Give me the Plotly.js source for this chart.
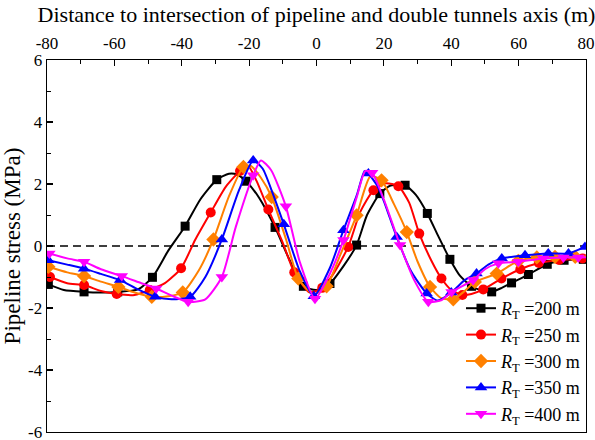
<!DOCTYPE html>
<html>
<head>
<meta charset="utf-8">
<script src="https://cdn.plot.ly/plotly-3.0.1.min.js"></script>
<style>html,body{margin:0;padding:0;background:#fff;}#chart{width:595px;height:440px;}</style>
</head>
<body>
<div id="chart"></div>
<script>
// ---- Data ----
// Marker points (x in m, stress in MPa)
const mx200 = [-79.6,-69,-59,-48.7,-39,-29.6,-20.9,-12.3,-3.9,4,11.9,18.8,26.3,32.9,39.6,46,52,57.9,62.9,68.5,73.5,79.2];
const my200 = [-1.24,-1.48,-1.48,-1.01,0.64,2.14,2.09,0.6,-1.3,-1.21,0.03,1.69,1.96,1.05,-0.43,-1.3,-1.48,-1.19,-0.92,-0.59,-0.46,-0.43];
// Additional line points between markers
const lx200 = [-75,-64,-53,-44,-34.5,-26,-23.5,-17,-8,0,8,15,22,29.5,36,42.5,49,55];
const ly200 = [-1.42,-1.5,-1.4,-0.15,1.5,2.33,2.3,1.55,-0.45,-1.42,-0.65,1.0,1.95,1.65,0.35,-0.95,-1.43,-1.35];

const mx250 = [-79.1,-69,-59.3,-49.5,-40.2,-31.4,-22.7,-14.3,-6.6,1.7,9.4,16.9,24.3,30.5,37.1,43.3,49.5,54.9,60.5,66,72,79];
const my250 = [-1.0,-1.26,-1.55,-1.42,-0.72,1.08,2.42,1.18,-0.85,-1.35,-0.03,1.8,1.93,0.4,-1.05,-1.58,-1.4,-1.05,-0.75,-0.55,-0.45,-0.4];
const lx250 = [-74,-64,-54,-45,-36,-27,-20.3,-17.8,-10,-2,5,13,20.5,27.5,34,40,46];
const ly250 = [-1.2,-1.45,-1.58,-1.2,0.2,1.9,2.58,2.1,0.1,-1.5,-0.9,1.1,2.02,1.4,-0.45,-1.42,-1.55];

const mx300 = [-79.6,-69,-58.8,-48.9,-39.7,-30.6,-21.7,-13.3,-5.4,3,11.9,19.3,26.8,33.7,40.6,47,53.5,59.9,65.4,70.8,76.8];
const my300 = [-0.67,-0.97,-1.32,-1.64,-1.5,0.21,2.55,1.58,-1.05,-1.3,0.99,2.12,0.45,-1.32,-1.72,-1.16,-0.89,-0.48,-0.37,-0.35,-0.35];
const lx300 = [-74,-64,-54,-44,-35,-26,-19.5,-16.5,-9,-1,7,16,23,30,37,44,80];
const ly300 = [-0.85,-1.15,-1.5,-1.62,-0.8,1.6,2.58,2.2,0.2,-1.55,-0.3,2.25,1.35,-0.5,-1.68,-1.45,-0.33];

const mx350 = [-79.6,-69,-58.3,-47.9,-37.5,-28.1,-18.8,-9.7,-0.8,8,15.4,23.8,32.7,40,47.5,55,61.9,68.8,74.8,79.7];
const my350 = [-0.46,-0.73,-1.1,-1.64,-1.64,0.21,2.76,0.7,-1.62,0.51,2.34,0.29,-1.53,-1.5,-0.89,-0.4,-0.3,-0.24,-0.24,-0.03];
const lx350 = [-74,-64,-53,-43,-33,-23,-16,-13,-5,4,12,14.3,18,20,28,36,44,51];
const ly350 = [-0.6,-0.9,-1.4,-1.72,-1.0,1.8,2.5,1.7,-0.8,-0.7,1.65,2.42,1.95,1.45,-0.8,-1.76,-1.1,-0.6];

const mx400 = [-79.3,-69,-57.8,-47.6,-38.1,-28.1,-18.8,-9.1,-0.45,8,16.5,24.8,33.2,40.1,46.5,54,59.9,67.3,73.3,77.7];
const my400 = [-0.24,-0.51,-0.97,-1.37,-1.8,-1.0,2.28,1.28,-1.7,0.19,2.36,0.03,-1.8,-1.48,-1.1,-0.56,-0.51,-0.4,-0.37,-0.37];
const lx400 = [-74,-64,-52,-43,-33,-24,-16.5,-13.5,-5,3.5,12,14.5,20,29,37,50,80];
const ly400 = [-0.4,-0.75,-1.2,-1.6,-1.72,0.6,2.76,2.45,-0.5,-1.0,1.6,2.42,1.5,-1.1,-1.75,-0.75,-0.36];

const seriesNames = ['200','250','300','350','400'];
const zeroLineX = [-80, 80];
const zeroLineY = [0, 0];

// Tick labels (reference uses a plain hyphen for negatives)
const xTickVals = [-80,-60,-40,-20,0,20,40,60,80];
const xTickText = ['-80','-60','-40','-20','0','20','40','60','80'];
const yTickVals = [-6,-4,-2,0,2,4,6];
const yTickText = ['-6','-4','-2','0','2','4','6'];

// ---- Styles ----
const FONT = 'Liberation Serif';
const colors = ['#000000','#ff0000','#ff8000','#0000ff','#ff00ff'];
const symbols = ['square','circle','diamond','triangle-up','triangle-down'];
const msizes = [9,10,11,11,11];

const sets = [
  [mx200,my200,lx200,ly200],[mx250,my250,lx250,ly250],[mx300,my300,lx300,ly300],
  [mx350,my350,lx350,ly350],[mx400,my400,lx400,ly400]
];

const traces = [{
  x: zeroLineX, y: zeroLineY, mode: 'lines', showlegend: false, hoverinfo: 'skip',
  line: {color: '#000', width: 1.5, dash: '8px,5px'}
}];

sets.forEach((s, i) => {
  const pts = [];
  s[0].forEach((x, k) => pts.push({x: x, y: s[1][k], m: true}));
  s[2].forEach((x, k) => pts.push({x: x, y: s[3][k], m: false}));
  pts.sort((a, b) => a.x - b.x);
  traces.push({
    x: pts.map(p => p.x), y: pts.map(p => p.y),
    mode: 'lines+markers',
    name: '<i>R</i><sub>T</sub> =' + seriesNames[i] + ' m',
    line: {color: colors[i], width: 2, shape: 'spline', smoothing: 0.6},
    marker: {symbol: symbols[i], size: msizes[i],
             color: pts.map(p => p.m ? colors[i] : 'rgba(0,0,0,0)')}
  });
});

const layout = {
  width: 595, height: 440,
  margin: {l: 47, r: 9, t: 60, b: 8},
  paper_bgcolor: '#fff', plot_bgcolor: '#fff',
  font: {family: FONT, color: '#000', size: 17},
  showlegend: true,
  legend: {x: 1, xanchor: 'right', y: 0, yanchor: 'bottom', bgcolor: 'rgba(0,0,0,0)',
           borderwidth: 0, font: {family: FONT, size: 18}, tracegroupgap: 0},
  xaxis: {
    side: 'top', range: [-80, 80], tickmode: 'array', tickvals: xTickVals, ticktext: xTickText,
    ticks: 'inside', ticklen: 6, tickwidth: 1.2, tickcolor: '#000',
    minor: {dtick: 10, tick0: -80, ticks: 'inside', ticklen: 4, tickcolor: '#000', tickwidth: 1},
    showline: true, linecolor: '#000', linewidth: 1.4, mirror: true,
    showgrid: false, zeroline: false,
    ticklabelstandoff: 3, ticklabeloverflow: 'allow',
    tickfont: {family: FONT, size: 17},
    title: {text: 'Distance to intersection of pipeline and double tunnels axis (m)',
            font: {family: FONT, size: 22}, standoff: 5}
  },
  yaxis: {
    range: [-6, 6], tickmode: 'array', tickvals: yTickVals, ticktext: yTickText,
    ticks: 'inside', ticklen: 6, tickwidth: 1.2, tickcolor: '#000',
    minor: {dtick: 1, tick0: -6, ticks: 'inside', ticklen: 4, tickcolor: '#000', tickwidth: 1},
    showline: true, linecolor: '#000', linewidth: 1.4, mirror: true,
    showgrid: false, zeroline: false, ticklabeloverflow: 'allow',
    tickfont: {family: FONT, size: 17},
    title: {text: 'Pipeline stress (MPa)', font: {family: FONT, size: 23}, standoff: 2}
  }
};

Plotly.newPlot('chart', traces, layout, {displayModeBar: false, staticPlot: true});
</script>
</body>
</html>
